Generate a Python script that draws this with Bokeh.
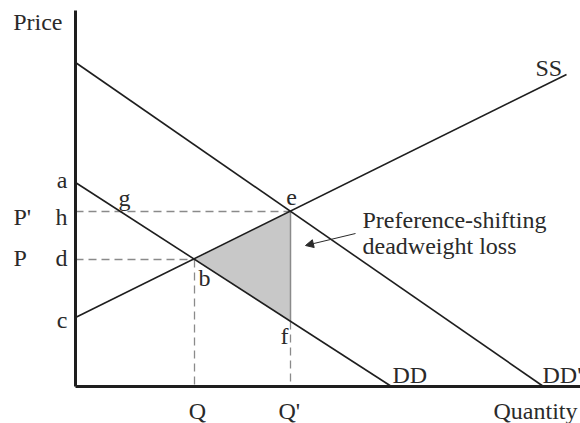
from bokeh.plotting import figure
from bokeh.models import Arrow, NormalHead
from bokeh.embed import file_html
from bokeh.resources import INLINE
from bokeh.core.properties import value

# Demand and supply schedules as (quantity, price) end points
dd_q = [0.0, 31.6]
dd_p = [20.4, 0.0]
ddp_q = [0.0, 46.8]
ddp_p = [32.4, 0.0]
ss_q = [0.0, 49.1]
ss_p = [6.9, 31.2]

# Equilibria: b = (Q, P) before the shift, e = (Q', P') after it
Q, P = 11.9, 12.7
Q2, P2 = 21.5, 17.5
# price on the original demand curve at Q'
f_p = 6.5

FONT = value("Liberation Serif")
FS = "24px"
INK = "#1e1e1e"
TXT = "#2a2a2a"
DASH = "#8a8a8a"
BASE = -6  # baseline correction for the svg text

p = figure(width=580, height=423, x_range=(-7.5, 50.5), y_range=(-3.7, 38.6),
           output_backend="svg", toolbar_location=None, min_border=0,
           outline_line_color=None, background_fill_color="white")
p.axis.visible = False
p.grid.visible = False

# deadweight-loss triangle b-e-f
p.patch([Q, Q2, Q2], [P, P2, f_p], fill_color="#c8c8c8", line_color=None)
p.line([Q2, Q2], [P2, f_p], line_color=DASH, line_width=1.5)

# dashed guides to the axes
dash = dict(line_color=DASH, line_width=1.3, line_dash="8 5")
p.line([0, Q2], [P2, P2], **dash)
p.line([0, Q], [P, P], **dash)
p.line([Q, Q], [P, 0], **dash)
p.line([Q2, Q2], [f_p, 0], **dash)

# curves
for xs, ys in ((dd_q, dd_p), (ddp_q, ddp_p), (ss_q, ss_p)):
    p.line(xs, ys, line_color=INK, line_width=1.6)

# axes
p.line([0, 0], [0, 37.6], line_color=INK, line_width=3)
p.line([0, 50.5], [0, 0], line_color=INK, line_width=3)


def label(txt, x, y, dx=0, dy=0, align="left"):
    p.text(x=[x], y=[y], text=[txt], x_offset=dx, y_offset=dy + BASE,
           text_font=FONT, text_font_size=FS, text_color=TXT,
           text_align=align, text_baseline="alphabetic")


def px(x, y):
    # screen pixel -> data units
    return (x - 75) / 10, (386 - y) / 10


q_g = dd_q[1] * (1 - P2 / dd_p[0])

label("Price", 0, px(0, 27)[1], dx=-13, align="right")
label("a", 0, dd_p[0], dx=-8, dy=3, align="right")
label("c", 0, ss_p[0], dx=-8, dy=8, align="right")
label("h", 0, P2, dx=-8, dy=11, align="right")
label("d", 0, P, dx=-8, dy=4, align="right")
label("P'", 0, P2, dx=-62, dy=11)
label("P", 0, P, dx=-62, dy=4)
label("g", q_g, P2, dx=4, dy=-8, align="center")
label("b", Q, P, dx=4, dy=24)
label("e", Q2, P2, dx=1, dy=-8, align="center")
label("f", Q2, f_p, dx=-6, dy=20, align="center")
label("Q", Q, 0, dx=3, dy=30, align="center")
label("Q'", Q2, 0, dx=-12, dy=30)
label("Quantity", 50.2, 0, dy=30, align="right")
label("DD", dd_q[1], 0, dx=1, dy=-6)
label("DD'", ddp_q[1], 0, dx=-1, dy=-6)
label("SS", ss_q[1], ss_p[1], dx=-31, dy=-1)

x1, y1 = px(362, 225)
label("Preference-shifting", x1, y1)
x2, y2 = px(362, 251)
label("deadweight loss", x2, y2)

xs, ys = px(355, 233)
xe, ye = px(305, 245)
p.add_layout(Arrow(end=NormalHead(size=8, fill_color=TXT, line_color=TXT),
                   x_start=xs, y_start=ys, x_end=xe, y_end=ye,
                   line_color=TXT, line_width=1))

open("out.html", "w").write(file_html(p, INLINE))
